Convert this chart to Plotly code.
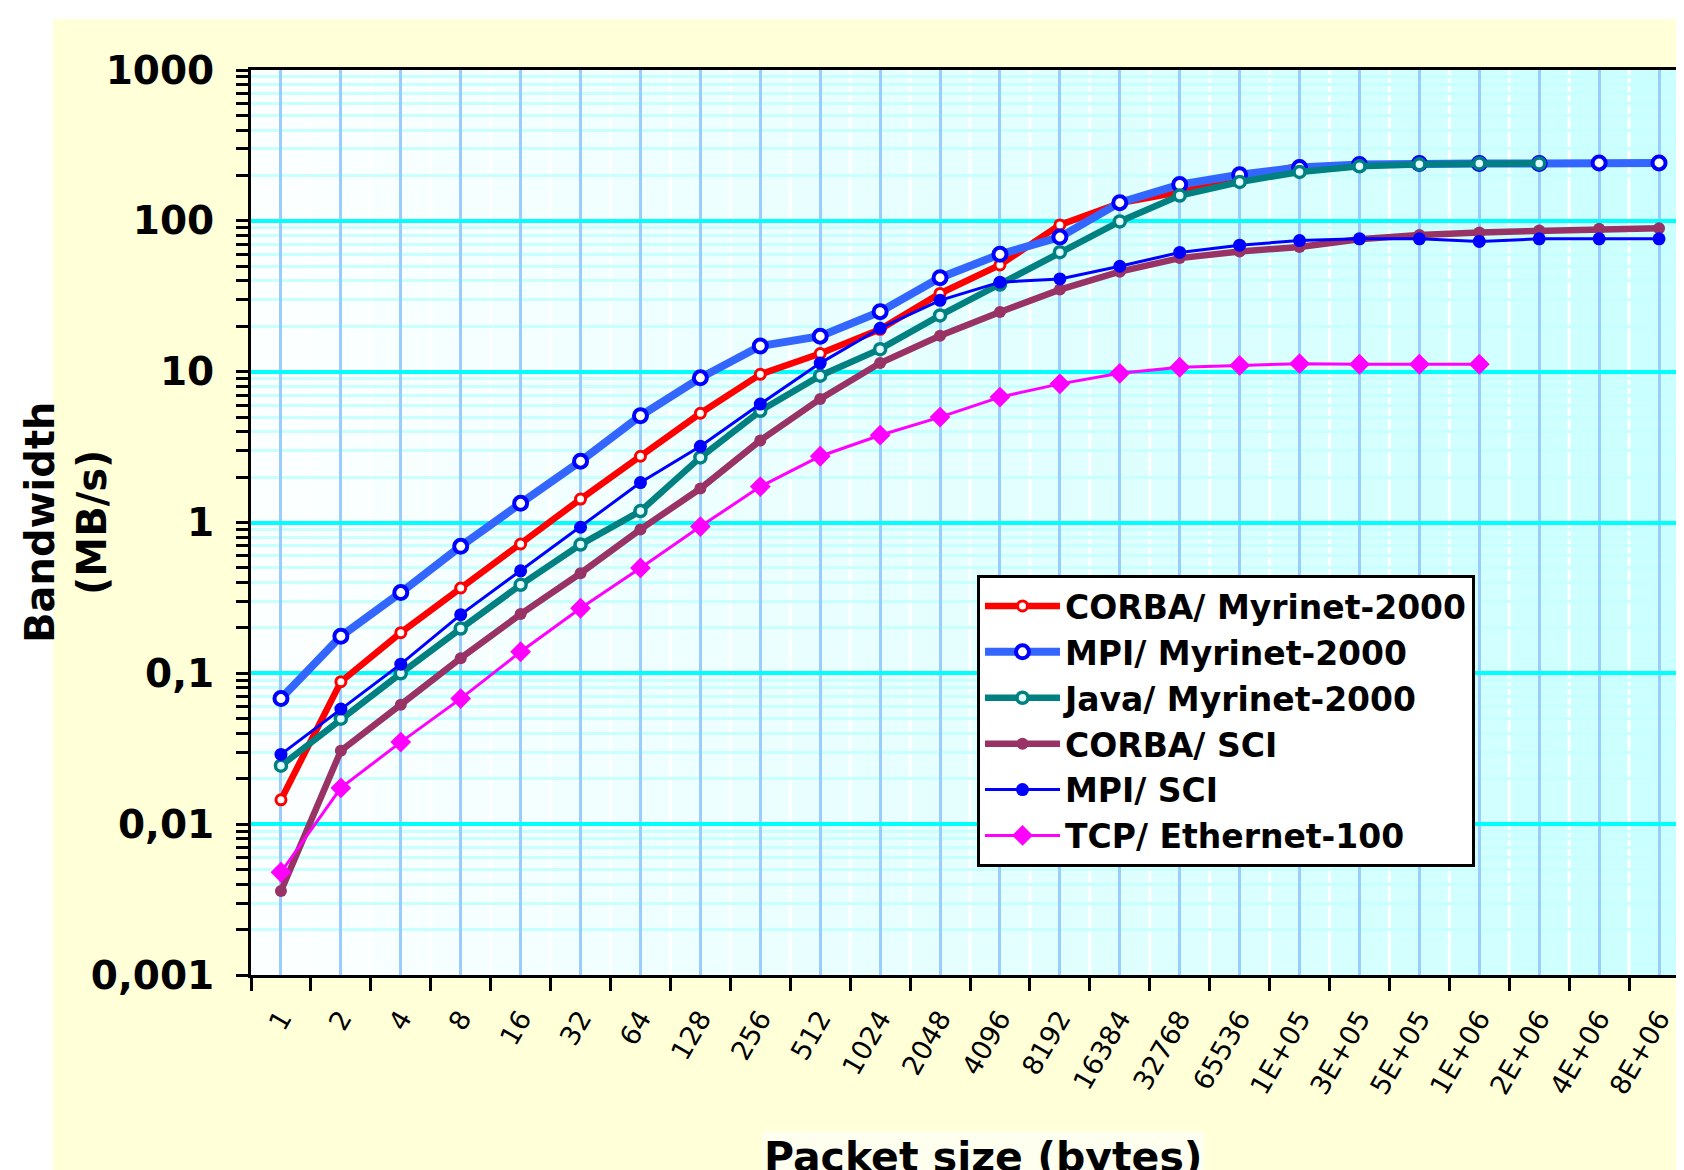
import plotly.graph_objects as go

# ---------------- data ----------------
SIZES = ["1", "2", "4", "8", "16", "32", "64", "128", "256", "512", "1024", "2048",
         "4096", "8192", "16384", "32768", "65536", "1E+05", "3E+05", "5E+05",
         "1E+06", "2E+06", "4E+06", "8E+06"]

CORBA_MYRINET = [0.0145, 0.088, 0.186, 0.368, 0.72, 1.43, 2.75, 5.3, 9.6, 13.2, 19.1,
                 33, 51, 94, 131, 155, 192, 232]
MPI_MYRINET = [0.068, 0.176, 0.343, 0.695, 1.34, 2.55, 5.1, 9.1, 14.8, 17.2, 25, 42,
               60, 78, 132, 174, 202, 226, 236, 240, 240, 240, 242, 242]
JAVA_MYRINET = [0.0244, 0.050, 0.10, 0.198, 0.386, 0.714, 1.19, 2.7, 5.5, 9.4, 14.1,
                23.6, 37.8, 62, 99, 147, 181, 211, 230, 237, 240, 240]
CORBA_SCI = [0.0036, 0.0307, 0.062, 0.126, 0.247, 0.461, 0.90, 1.68, 3.5, 6.6, 11.4,
             17.3, 24.9, 35, 46, 56.6, 62.7, 67, 75.6, 80.7, 83.8, 86.3, 88.5, 89.4]
MPI_SCI = [0.029, 0.058, 0.115, 0.245, 0.478, 0.93, 1.84, 3.2, 6.1, 11.4, 19.4, 29.7,
           39.2, 41.2, 50, 61.7, 69, 74, 76, 76, 73, 76, 76, 76]
TCP_ETHERNET = [0.0048, 0.0174, 0.035, 0.068, 0.139, 0.27, 0.50, 0.94, 1.73, 2.75, 3.79,
                5.0, 6.78, 8.3, 9.75, 10.7, 11.0, 11.3, 11.2, 11.2, 11.2]

SERIES_NAMES = ["CORBA/ Myrinet-2000", "MPI/ Myrinet-2000", "Java/ Myrinet-2000",
                "CORBA/ SCI", "MPI/ SCI", "TCP/ Ethernet-100"]

Y_TICK_VALS = [0.001, 0.01, 0.1, 1, 10, 100, 1000]
Y_TICK_TEXT = ["0,001", "0,01", "0,1", "1", "10", "100", "1000"]

# ---------------- styles ----------------
FONT = "DejaVu Sans"
W, H = 1684, 1170
OFF = 8                      # page body margin
ML, MT = 251 - OFF, 70 - OFF
PH = 905
MB = H - MT - PH
PR = 1689 - OFF              # plot right edge (just outside the window)
MR = W - PR
PW = PR - ML

styles = [
    (dict(color="#FF0000", width=6.5),
     dict(symbol="circle", size=10, color="white", line=dict(color="#FF0000", width=3))),
    (dict(color="#3366FF", width=8),
     dict(symbol="circle", size=13, color="white", line=dict(color="#0000FF", width=4))),
    (dict(color="#008080", width=6.5),
     dict(symbol="circle", size=11, color="#E0FFFF", line=dict(color="#008080", width=3.5))),
    (dict(color="#993366", width=6.5),
     dict(symbol="circle", size=12, color="#993366", line=dict(width=0))),
    (dict(color="#0000FF", width=3),
     dict(symbol="circle", size=13, color="#0000FF", line=dict(width=0))),
    (dict(color="#FF00FF", width=3),
     dict(symbol="diamond", size=16, color="#FF00FF", line=dict(width=0))),
]
values = [CORBA_MYRINET, MPI_MYRINET, JAVA_MYRINET, CORBA_SCI, MPI_SCI, TCP_ETHERNET]

x_idx = list(range(len(SIZES)))

fig = go.Figure()
for name, vals, (ln, mk) in zip(SERIES_NAMES, values, styles):
    fig.add_trace(go.Scatter(x=x_idx[:len(vals)], y=vals, mode="lines+markers",
                             name=name, line=ln, marker=mk))

# background bands (gradient white -> light cyan) and seams
n = len(SIZES)
for i in range(n):
    t = i / (n - 1)
    r = round(252 - t * (252 - 204))
    fig.add_shape(type="rect", xref="x", yref="paper", x0=i - 0.5, x1=i + 0.5, y0=0, y1=1,
                  fillcolor=f"rgb({r},255,255)", line_width=0, layer="below")
for i in range(n - 1):
    fig.add_shape(type="line", xref="x", yref="paper", x0=i + 0.5, x1=i + 0.5, y0=0, y1=1,
                  line=dict(color="white", width=3), layer="between")


def px_x(p):
    """screen pixel x -> paper coordinate"""
    return (p - OFF - ML) / PW


def px_y(p):
    """screen pixel y -> paper coordinate"""
    return (MT + PH - (p - OFF)) / PH


# white strips around the yellow paper area
fig.add_shape(type="rect", xref="paper", yref="paper", x0=px_x(-50), x1=px_x(53),
              y0=px_y(H + 50), y1=px_y(-50), fillcolor="white", line_width=0, layer="below")
fig.add_shape(type="rect", xref="paper", yref="paper", x0=px_x(-50), x1=px_x(W + 50),
              y0=px_y(19), y1=px_y(-50), fillcolor="white", line_width=0, layer="below")

minor_y = [k * 10 ** e for e in range(-3, 3) for k in range(2, 10)]

fig.update_layout(
    width=W, height=H,
    margin=dict(l=ML, r=MR, t=MT, b=MB, autoexpand=False),
    paper_bgcolor="#FFFFD8",
    plot_bgcolor="#F8FFFF",
    font=dict(family=FONT, color="black"),
    showlegend=True,
    legend=dict(x=px_x(977), y=px_y(575), xanchor="left", yanchor="top",
                bgcolor="white", bordercolor="black", borderwidth=3, itemwidth=75,
                font=dict(family=FONT, size=33, weight="bold", color="black")),
    xaxis=dict(range=[-0.5, 23.5], tickmode="array", tickvals=x_idx, ticktext=SIZES,
               tickangle=-60, tickfont=dict(family=FONT, size=27, color="black"),
               ticks="", showgrid=True, gridcolor="#99CCFF", gridwidth=2.5,
               showline=True, linecolor="black", linewidth=3, mirror=True, zeroline=False,
               ticklabelstandoff=14, automargin=False,
               minor=dict(tickmode="array", tickvals=[i - 0.5 for i in x_idx],
                          ticks="outside", ticklen=13, tickwidth=2.5, tickcolor="black",
                          showgrid=False)),
    yaxis=dict(type="log", range=[-3, 3], tickmode="array", tickvals=Y_TICK_VALS,
               ticktext=Y_TICK_TEXT,
               tickfont=dict(family=FONT, size=39, weight="bold", color="black"),
               ticks="outside", ticklen=12, tickwidth=2.5, tickcolor="black",
               showline=True, linecolor="black", linewidth=3, zeroline=False,
               showgrid=True, gridcolor="#00FFFF", gridwidth=3.5, ticklabelstandoff=14,
               automargin=False,
               minor=dict(tickmode="array", tickvals=minor_y, ticks="outside", ticklen=12,
                          tickwidth=2.5, tickcolor="black", showgrid=True,
                          gridcolor="#C8FFFF", gridwidth=2.5)),
    annotations=[
        dict(text="Packet size (bytes)", xref="paper", yref="paper", x=px_x(983),
             y=px_y(1157), xanchor="center", yanchor="middle", showarrow=False,
             bgcolor="#FFFFF0",
             font=dict(family=FONT, size=41, weight="bold", color="black")),
        dict(text="Bandwidth<br>(MB/s)", xref="paper", yref="paper", x=px_x(66),
             y=px_y(523), xanchor="center", yanchor="middle", showarrow=False,
             textangle=-90,
             font=dict(family=FONT, size=40, weight="bold", color="black")),
    ],
)

fig.write_html("out.html")
